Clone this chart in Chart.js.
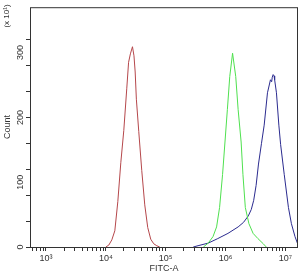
<!DOCTYPE html>
<html>
<head>
<meta charset="utf-8">
<script src="https://cdn.jsdelivr.net/npm/chart.js@4/dist/chart.umd.min.js"></script>
<style>
  html, body { margin:0; padding:0; background:#fff; }
  canvas { display:block; }
</style>
</head>
<body>
<canvas id="histChart" width="304" height="275"></canvas>
<script>
/* FITC-A histogram, three overlaid samples */

// x values are decade exponents (log10 FITC-A), y values are counts
const redLog     = [4.00, 4.05, 4.10, 4.15, 4.20, 4.25, 4.30, 4.35, 4.38, 4.41, 4.445, 4.47, 4.49, 4.51, 4.55, 4.60, 4.65, 4.70, 4.75, 4.80, 4.85, 4.90];
const redCount   = [0, 3, 11, 25, 70, 130, 180, 245, 285, 298, 309, 295, 270, 228, 178, 118, 65, 30, 12, 5, 2, 0];

const greenLog   = [5.63, 5.71, 5.79, 5.85, 5.90, 5.95, 5.99, 6.03, 6.07, 6.117, 6.17, 6.21, 6.26, 6.29, 6.33, 6.39, 6.46, 6.54, 6.63, 6.68];
const greenCount = [0, 6, 16, 31, 61, 112, 162, 212, 263, 299, 263, 212, 162, 112, 61, 36, 21, 13, 5, 0];

const blueLog    = [5.46, 5.54, 5.71, 5.87, 6.04, 6.21, 6.30, 6.38, 6.43, 6.47, 6.51, 6.55, 6.60, 6.645, 6.70, 6.75, 6.77, 6.78, 6.795, 6.81, 6.82, 6.85, 6.89, 6.92, 6.98, 7.05, 7.10, 7.16, 7.20, 7.21];
const blueCount  = [0, 2, 6, 13, 21, 31, 38, 48, 58, 72, 95, 128, 160, 188, 238, 258, 255, 262, 266, 264, 258, 238, 188, 158, 112, 61, 36, 16, 6, 3];

const xTickValues = [1e3, 1e4, 1e5, 1e6, 1e7];
const xTickLabels = ['10³', '10⁴', '10⁵', '10⁶', '10⁷'];
const yTickValues = [0, 100, 200, 300];
const yTickLabels = ['0', '100', '200', '300'];

const FONT = '"Liberation Sans", Arial, sans-serif';
const INK = '#333';

function toPoints(logs, counts) {
  return logs.map((e, i) => ({ x: 10 ** e, y: counts[i] }));
}

// box around the plot, rotated y labels and the scale note
const frame = {
  id: 'frame',
  afterDraw(chart) {
    const { ctx, chartArea: a, scales: { y } } = chart;
    ctx.save();
    ctx.strokeStyle = INK;
    ctx.lineWidth = 1;
    ctx.strokeRect(a.left + 0.5, a.top + 0.5, a.right - a.left - 1, a.bottom - a.top);
    ctx.fillStyle = INK;
    ctx.font = '9px ' + FONT;
    ctx.textAlign = 'center';
    ctx.textBaseline = 'middle';
    yTickValues.forEach((v, i) => {
      ctx.save();
      ctx.translate(21, y.getPixelForValue(v));
      ctx.rotate(-Math.PI / 2);
      ctx.fillText(yTickLabels[i], 0, 0);
      ctx.restore();
    });
    ctx.translate(7, 16);
    ctx.rotate(-Math.PI / 2);
    ctx.font = '8px ' + FONT;
    ctx.fillText('(x 10¹)', 0, 0);
    ctx.restore();
  }
};

const line = (data, color) => ({
  data, borderColor: color, borderWidth: 1, pointRadius: 0, tension: 0, fill: false
});

new Chart(document.getElementById('histChart'), {
  type: 'line',
  data: {
    datasets: [
      line(toPoints(redLog, redCount), '#b5474b'),
      line(toPoints(greenLog, greenCount), '#4fe04f'),
      line(toPoints(blueLog, blueCount), '#2b2b8f')
    ]
  },
  options: {
    responsive: false,
    animation: false,
    layout: { padding: { top: 3, right: 6, left: 0, bottom: 0 } },
    plugins: { legend: { display: false }, tooltip: { enabled: false } },
    scales: {
      x: {
        type: 'logarithmic',
        min: 10 ** 2.733,
        max: 10 ** 7.21,
        afterBuildTicks: s => {
          const t = [];
          for (let p = 2; p <= 7; p++) {
            for (let k = 1; k <= 9; k++) {
              const v = k * 10 ** p;
              if (v >= s.min && v <= s.max) t.push({ value: v });
            }
          }
          s.ticks = t;
        },
        afterFit: s => { s.height = 28; },
        ticks: {
          autoSkip: false, maxRotation: 0, padding: 2, color: INK,
          font: { family: FONT, size: 9 },
          callback: v => { const i = xTickValues.indexOf(v); return i >= 0 ? xTickLabels[i] : ''; }
        },
        grid: { drawOnChartArea: false, tickLength: 4, color: INK },
        border: { display: false },
        title: { display: true, text: 'FITC-A', color: INK, font: { family: FONT, size: 9 }, padding: { top: 0, bottom: 1 } }
      },
      y: {
        min: 0,
        max: 370,
        afterBuildTicks: s => { s.ticks = s.ticks.filter(t => t.value % 20 === 0); },
        afterFit: s => { s.width = 30; },
        ticks: { stepSize: 20, padding: 0, callback: () => '' },
        grid: { drawOnChartArea: false, tickLength: 4, color: INK },
        border: { display: false },
        title: { display: true, text: 'Count', color: INK, font: { family: FONT, size: 9 }, padding: { top: 2, bottom: 0 } }
      }
    }
  },
  plugins: [frame]
});
</script>
</body>
</html>
